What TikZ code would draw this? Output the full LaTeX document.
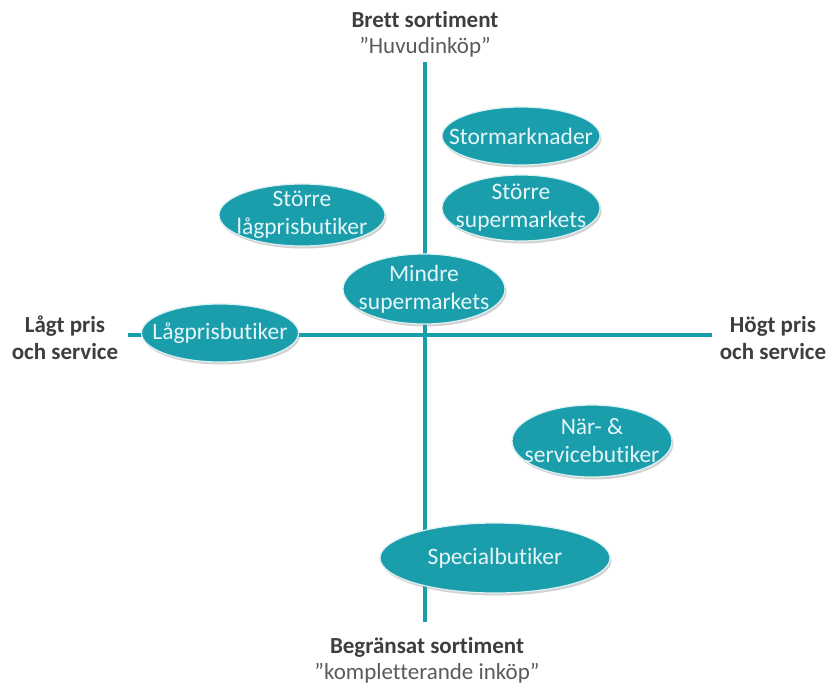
\documentclass[tikz,border=0pt]{standalone}
\usepackage{fontspec}
\setmainfont{Carlito}[Ligatures=NoCommon]
\usetikzlibrary{shapes.geometric,shadows}
\definecolor{tealfill}{RGB}{26,158,172}
\definecolor{tealline}{RGB}{24,158,170}
\definecolor{lbltext}{RGB}{62,62,62}
\definecolor{elltxt}{RGB}{230,245,247}
\tikzset{
  ellbox/.style={ellipse, fill=tealfill, draw=white!85!tealfill, line width=1.2pt, inner sep=0pt,
     drop shadow={opacity=0.35, shadow xshift=1.5pt, shadow yshift=-2.5pt}},
  elltext/.style={text=elltxt, align=center, font=\fontsize{23.5}{28}\selectfont, inner sep=0pt},
  axislbl/.style={text=lbltext, align=center, font=\fontsize{23}{27}\selectfont\bfseries, inner sep=0pt},
  axisquote/.style={text=lbltext!85, align=center, font=\fontsize{23}{27}\selectfont, inner sep=0pt},
  axisline/.style={draw=tealline, line width=3.5pt}
}
\begin{document}
\begin{tikzpicture}[x=1pt,y=-1pt]
\useasboundingbox (0,0) rectangle (832,686);
\fill[white] (0,0) rectangle (832,686);
% axes
\coordinate (top) at (425,62);
\coordinate (bot) at (425,622);
\coordinate (lft) at (128,335);
\coordinate (rgt) at (712,335);
\draw[axisline] (top) -- (bot);
\draw[axisline] (lft) -- (rgt);
% axis labels
\node[axislbl] (tl) at (425,20) {Brett sortiment};
\node[axisquote] (tq) at (425,47) {”Huvudinköp”};
\node[axislbl] (bl) at (427,647) {Begränsat sortiment};
\node[axisquote] (bq) at (427,673) {”kompletterande inköp”};
\node[axislbl] (ll) at (65,338) {Lågt pris\\och service};
\node[axislbl] (rl) at (773,338) {Högt pris\\och service};
% ellipses
\node[ellbox, minimum width=158, minimum height=58] (stor) at (521,136) {};
\node[elltext] at (stor) {Stormarknader};
\node[ellbox, minimum width=158, minimum height=66] (ssup) at (521,208) {};
\node[elltext] at (ssup) {Större\\supermarkets};
\node[ellbox, minimum width=166, minimum height=62] (slag) at (302,215) {};
\node[elltext] at (slag) {Större\\lågprisbutiker};
\node[ellbox, minimum width=162, minimum height=70] (msup) at (424,289) {};
\node[elltext] at (msup) {Mindre\\supermarkets};
\node[ellbox, minimum width=157, minimum height=58] (lag) at (220,333) {};
\node[elltext] at (lag) {Lågprisbutiker};
\node[ellbox, minimum width=160, minimum height=72] (nar) at (592,441) {};
\node[elltext] at (nar) {När- \&\\servicebutiker};
\node[ellbox, minimum width=230, minimum height=70] (spec) at (495,558) {};
\node[elltext] at (spec) {Specialbutiker};
\end{tikzpicture}
\end{document}
